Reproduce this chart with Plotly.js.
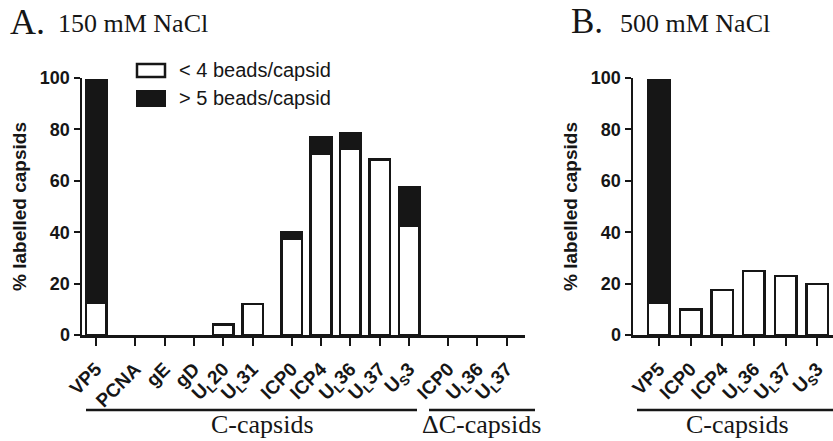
<!DOCTYPE html>
<html>
<head>
<meta charset="utf-8">
<script src="https://cdn.plot.ly/plotly-3.0.1.min.js"></script>
<style>html,body{margin:0;padding:0;background:#fff;}#chart{width:833px;height:441px;}</style>
</head>
<body>
<div id="chart"></div>
<script>
// ---- DATA ----
// Panel A: 150 mM NaCl
const labelsA = ["VP5", "PCNA", "gE", "gD", "U<sub>L</sub>20", "U<sub>L</sub>31",
                 "ICP0", "ICP4", "U<sub>L</sub>36", "U<sub>L</sub>37", "U<sub>S</sub>3",
                 "ICP0", "U<sub>L</sub>36", "U<sub>L</sub>37"];
// group of each category (0: VP5 control, 1 & 2: C-capsids proteins, 3: ΔC-capsids)
const groupA = [0, 1, 1, 1, 1, 1, 2, 2, 2, 2, 2, 3, 3, 3];
const lowA  = [12.5, 0, 0, 0, 4, 12, 37.5, 70.7, 72.3, 68, 42.5, 0, 0, 0];   // < 4 beads/capsid
const highA = [86.7, 0, 0, 0, 0, 0, 2.5, 6.2, 6.2, 0.5, 14.8, 0, 0, 0];      // > 5 beads/capsid

// Panel B: 500 mM NaCl
const labelsB = ["VP5", "ICP0", "ICP4", "U<sub>L</sub>36", "U<sub>L</sub>37", "U<sub>S</sub>3"];
const lowB  = [12.5, 10, 17.5, 24.9, 22.9, 19.8];
const highB = [86.7, 0, 0, 0, 0, 0];

const yTicks = [0, 20, 40, 60, 80, 100];
const seriesNames = ["< 4 beads/capsid", "> 5 beads/capsid"];

// ---- STYLE / LAYOUT ----
const W = 833, H = 441;
const GAP = 1 / 3;
const xA = labelsA.map((_, i) => i + groupA[i] * GAP);
const xB = labelsB.map((_, i) => i);
const ink = "#161616";
const sans = "Liberation Sans, Arial, sans-serif";
const serif = "Liberation Serif, Times New Roman, serif";
const px = v => v / W;
const py = v => 1 - v / H;
const nz = arr => arr.map(v => (v === 0 ? null : v));   // empty categories draw no bar

const barLine = {color: ink, width: 2.5};
const traces = [
  {type: "bar", x: xA, y: nz(lowA), name: seriesNames[0], xaxis: "x", yaxis: "y", width: 0.7,
   marker: {color: "#ffffff", line: barLine}, showlegend: false},
  {type: "bar", x: xA, y: nz(highA), name: seriesNames[1], xaxis: "x", yaxis: "y", width: 0.7,
   marker: {color: ink, line: barLine}, showlegend: false},
  {type: "bar", x: xB, y: nz(lowB), name: seriesNames[0], xaxis: "x2", yaxis: "y2", width: 0.68,
   marker: {color: "#ffffff", line: barLine}, showlegend: false},
  {type: "bar", x: xB, y: nz(highB), name: seriesNames[1], xaxis: "x2", yaxis: "y2", width: 0.68,
   marker: {color: ink, line: barLine}, showlegend: false}
];

const yDom = [py(335), py(78)];
const tickFont = {family: sans, size: 18, color: ink, weight: 700};
const xTickFont = {family: sans, size: 19, color: ink, weight: 700};
const yTitle = {text: "% labelled capsids", font: {family: sans, size: 19, color: ink, weight: 700}, standoff: 8};

const common = {showgrid: false, zeroline: false, showline: true, linewidth: 2.5, linecolor: ink,
                ticks: "outside", tickwidth: 2, tickcolor: ink, fixedrange: true};

const layout = {
  width: W, height: H,
  margin: {l: 0, r: 0, t: 0, b: 0},
  paper_bgcolor: "#fff", plot_bgcolor: "#fff",
  barmode: "stack",
  showlegend: false,
  xaxis: Object.assign({}, common, {domain: [px(82), px(525)], range: [-0.48, 14.62],
    tickvals: xA, ticktext: labelsA, tickangle: -45, ticklen: 8, ticklabelstandoff: 5, tickfont: xTickFont, anchor: "y"}),
  yaxis: Object.assign({}, common, {domain: yDom, range: [0, 100], tickvals: yTicks,
    ticklen: 6, tickfont: tickFont, title: yTitle, anchor: "x"}),
  xaxis2: Object.assign({}, common, {domain: [px(633), 1], range: [-0.82, 5.5],
    tickvals: xB, ticktext: labelsB, tickangle: -45, ticklen: 8, ticklabelstandoff: 5, tickfont: xTickFont, anchor: "y2"}),
  yaxis2: Object.assign({}, common, {domain: yDom, range: [0, 100], tickvals: yTicks,
    ticklen: 6, tickfont: tickFont, title: yTitle, anchor: "x2"}),
  shapes: [
    // legend swatches
    {type: "rect", xref: "paper", yref: "paper", x0: px(137), x1: px(165), y0: py(77), y1: py(64),
     fillcolor: "#fff", line: {color: ink, width: 2.5}},
    {type: "rect", xref: "paper", yref: "paper", x0: px(137), x1: px(165), y0: py(106), y1: py(91),
     fillcolor: ink, line: {color: ink, width: 2}},
    // group brackets
    {type: "line", xref: "paper", yref: "paper", x0: px(86), x1: px(417), y0: py(410), y1: py(410), line: {color: ink, width: 2.5}},
    {type: "line", xref: "paper", yref: "paper", x0: px(429), x1: px(535), y0: py(410), y1: py(410), line: {color: ink, width: 2.5}},
    {type: "line", xref: "paper", yref: "paper", x0: px(637), x1: 1, y0: py(410), y1: py(410), line: {color: ink, width: 2.5}}
  ],
  annotations: [
    {text: "A.", xref: "paper", yref: "paper", x: px(8), y: py(22), xanchor: "left", yanchor: "middle", showarrow: false,
     font: {family: serif, size: 36, color: ink}},
    {text: "150 mM NaCl", xref: "paper", yref: "paper", x: px(56), y: py(24), xanchor: "left", yanchor: "middle", showarrow: false,
     font: {family: serif, size: 26, color: ink}},
    {text: "B.", xref: "paper", yref: "paper", x: px(569), y: py(22), xanchor: "left", yanchor: "middle", showarrow: false,
     font: {family: serif, size: 35, color: ink}},
    {text: "500 mM NaCl", xref: "paper", yref: "paper", x: px(618), y: py(24), xanchor: "left", yanchor: "middle", showarrow: false,
     font: {family: serif, size: 26, color: ink}},
    {text: seriesNames[0], xref: "paper", yref: "paper", x: px(177), y: py(70), xanchor: "left", yanchor: "middle", showarrow: false,
     font: {family: sans, size: 20, color: ink}},
    {text: seriesNames[1], xref: "paper", yref: "paper", x: px(177), y: py(98), xanchor: "left", yanchor: "middle", showarrow: false,
     font: {family: sans, size: 20, color: ink}},
    {text: "C-capsids", xref: "paper", yref: "paper", x: px(262), y: py(424), xanchor: "center", yanchor: "middle", showarrow: false,
     font: {family: serif, size: 26, color: ink}},
    {text: "ΔC-capsids", xref: "paper", yref: "paper", x: px(481), y: py(424), xanchor: "center", yanchor: "middle", showarrow: false,
     font: {family: serif, size: 26, color: ink}},
    {text: "C-capsids", xref: "paper", yref: "paper", x: px(737), y: py(424), xanchor: "center", yanchor: "middle", showarrow: false,
     font: {family: serif, size: 26, color: ink}}
  ]
};

Plotly.newPlot("chart", traces, layout, {staticPlot: true, displayModeBar: false});
</script>
</body>
</html>
